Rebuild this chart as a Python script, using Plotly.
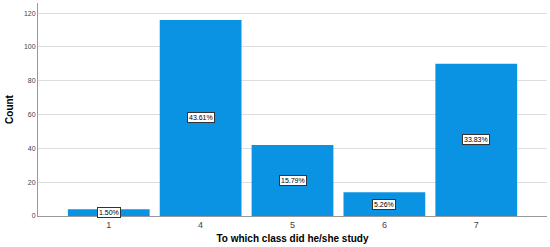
import plotly.graph_objects as go

# class studied -> count of respondents
classes = ["1", "4", "5", "6", "7"]
counts = [4, 116, 42, 14, 90]
percent_labels = ["1.50%", "43.61%", "15.79%", "5.26%", "33.83%"]

bar_color = "#0A93E3"

fig = go.Figure()

fig.add_trace(go.Bar(
    x=classes,
    y=counts,
    width=0.89,
    marker=dict(color=bar_color, line=dict(width=0)),
    showlegend=False,
    hovertemplate='Class %{x}<br>Count %{y}<extra></extra>',
))

# boxed percentage labels in the middle of each bar
# (category positions by index, since the class names look numeric)
for i, (cnt, lab) in enumerate(zip(counts, percent_labels)):
    fig.add_annotation(
        x=i, y=cnt / 2,
        xref='x', yref='y',
        text=lab,
        showarrow=False,
        font=dict(family="Liberation Sans", size=7, color="black"),
        bgcolor="white",
        bordercolor="#333333",
        borderwidth=1,
        borderpad=1,
    )

fig.update_layout(
    width=550,
    height=247,
    margin=dict(l=38, r=3, t=3, b=31),
    plot_bgcolor='white',
    paper_bgcolor='white',
    font=dict(family="Liberation Sans", color="#333333"),
    xaxis=dict(
        type='category',
        range=[-0.77, 4.77],
        showgrid=False,
        showline=True,
        linecolor='#999999',
        linewidth=1,
        ticks='',
        tickfont=dict(size=9, color='#444444'),
        title=dict(text='<b>To which class did he/she study</b>',
                   font=dict(size=10, color='black'), standoff=6),
    ),
    yaxis=dict(
        range=[0, 126],
        tickvals=[0, 20, 40, 60, 80, 100, 120],
        showgrid=True,
        gridcolor='#DDDDDD',
        gridwidth=1,
        zeroline=False,
        showline=True,
        linecolor='#999999',
        linewidth=1,
        ticks='',
        tickfont=dict(size=7, color='#444444'),
        title=dict(text='<b>Count</b>', font=dict(size=10, color='black'),
                   standoff=8),
    ),
)

# drop the browser's default page margin so the figure fills the window
fig.write_html("out.html", config={'displayModeBar': False},
               post_script="document.body.style.margin='0';")
